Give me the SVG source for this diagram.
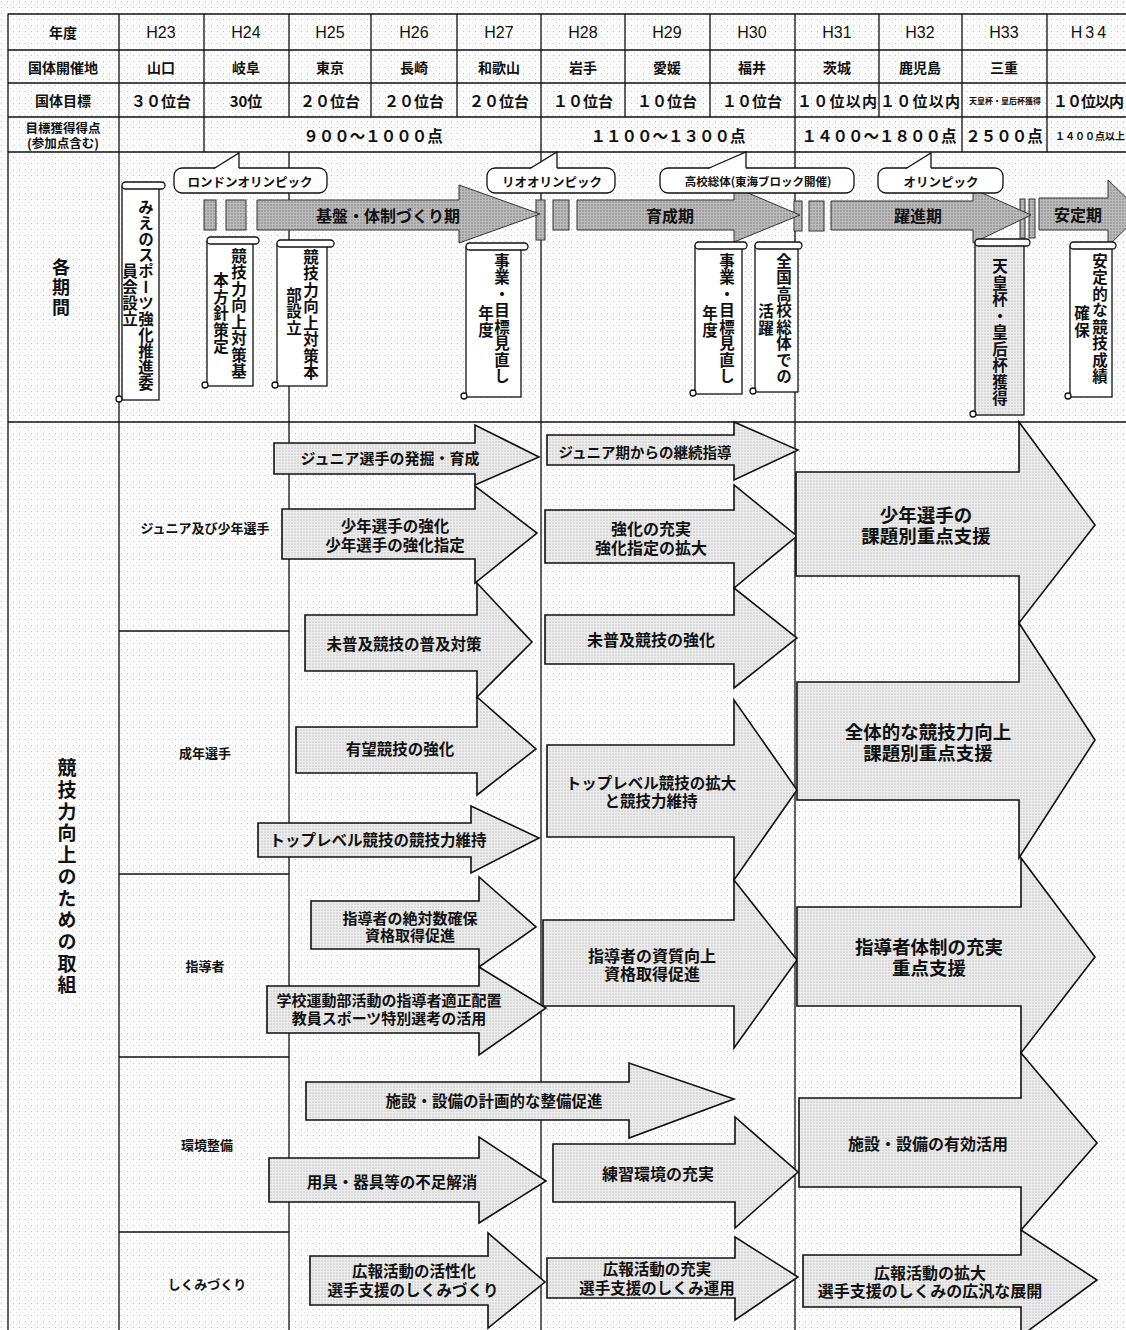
<svg xmlns="http://www.w3.org/2000/svg" width="1126" height="1330" viewBox="0 0 1126 1330">
<defs>
<pattern id="bgd" width="6" height="6" patternUnits="userSpaceOnUse"><rect width="6" height="6" fill="#fdfdfd"/><circle cx="1.5" cy="1.5" r="0.55" fill="#b0b0b0"/><circle cx="4.5" cy="4.2" r="0.45" fill="#c4c4c4"/></pattern>
<pattern id="ad" width="3" height="3" patternUnits="userSpaceOnUse"><rect width="3" height="3" fill="#ececec"/><circle cx="1" cy="1" r="0.6" fill="#9a9a9a"/></pattern>
<pattern id="pd" width="3" height="3" patternUnits="userSpaceOnUse"><rect width="3" height="3" fill="#bcbcbc"/><circle cx="1" cy="1" r="0.7" fill="#707070"/></pattern>
<style>
.t{font-family:"Noto Sans CJK JP","Noto Sans",sans-serif;fill:#111;text-anchor:middle;dominant-baseline:central;font-weight:700}
.l{font-family:"Liberation Sans",Arial,sans-serif;fill:#111;text-anchor:middle;dominant-baseline:central}
.v{writing-mode:vertical-rl;font-family:"Noto Sans CJK JP",sans-serif;fill:#111;text-anchor:middle;font-weight:700}
.ln{stroke:#111;stroke-width:1.3;fill:none}
.arr{fill:url(#ad);stroke:#111;stroke-width:1.6;stroke-linejoin:miter}
.parr{fill:url(#pd);stroke:#333;stroke-width:1}
.sc{fill:#fff;stroke:#111;stroke-width:1.3}
.co{fill:#fff;stroke:#111;stroke-width:1.3}
</style>
</defs>
<rect width="1126" height="1330" fill="url(#bgd)"/>

<g id="grid">
<path class="ln" d="M8,14H1126 M8,50H1126 M8,83H1126 M8,117H1126 M8,152H1126 M8,422H1126"/>
<path class="ln" d="M8,14V1330 M119,14V1330 M204,14V152 M289,14V117 M371,14V117 M457,14V117 M541,14V1330 M625,14V117 M710,14V117 M795,14V1330 M879,14V117 M962,14V152 M1047,14V152 M289,152V1330"/>
<path class="ln" d="M119,631H289 M119,874H289 M119,1057H289 M119,1232H289"/>
</g>

<g id="table-text">
<text class="t" x="63" y="32" font-size="14">年度</text>
<text class="t" x="63" y="67" font-size="14">国体開催地</text>
<text class="t" x="63" y="100" font-size="14">国体目標</text>
<text class="t" font-size="12.5"><tspan x="63" y="127">目標獲得得点</tspan><tspan x="63" y="142">(参加点含む)</tspan></text>
<g class="l" font-size="16">
<text x="161" y="32">H23</text><text x="246" y="32">H24</text><text x="330" y="32">H25</text><text x="414" y="32">H26</text><text x="499" y="32">H27</text><text x="583" y="32">H28</text><text x="667" y="32">H29</text><text x="752" y="32">H30</text><text x="837" y="32">H31</text><text x="920" y="32">H32</text><text x="1004" y="32">H33</text><text x="1090" y="32" letter-spacing="3">H34</text>
</g>
<g font-size="14">
<text class="t" x="161" y="67">山口</text><text class="t" x="246" y="67">岐阜</text><text class="t" x="330" y="67">東京</text><text class="t" x="414" y="67">長崎</text><text class="t" x="499" y="67">和歌山</text><text class="t" x="583" y="67">岩手</text><text class="t" x="667" y="67">愛媛</text><text class="t" x="752" y="67">福井</text><text class="t" x="837" y="67">茨城</text><text class="t" x="920" y="67">鹿児島</text><text class="t" x="1004" y="67">三重</text>
</g>
<g font-size="15">
<text class="t" x="161" y="100" font-weight="400">３０位台</text><text class="t" x="246" y="100" font-weight="400">30位</text><text class="t" x="330" y="100" font-weight="400">２０位台</text><text class="t" x="414" y="100" font-weight="400">２０位台</text><text class="t" x="499" y="100" font-weight="400">２０位台</text><text class="t" x="583" y="100" font-weight="400">１０位台</text><text class="t" x="667" y="100" font-weight="400">１０位台</text><text class="t" x="752" y="100" font-weight="400">１０位台</text><text class="t" x="837" y="100" font-weight="400" textLength="80">１０位以内</text><text class="t" x="920" y="100" font-weight="400" textLength="80">１０位以内</text><text class="t" x="1005" y="100" font-size="8">天皇杯・皇后杯獲得</text><text class="t" x="1053" y="100" font-weight="400" style="text-anchor:start" textLength="71">１０位以内</text>
</g>
<g font-size="15.5" font-weight="400">
<text class="t" x="373" y="135" font-weight="400">９００～１０００点</text>
<text class="t" x="668" y="135" font-weight="400">１１００～１３００点</text>
<text class="t" x="879" y="135" font-weight="400">１４００～１８００点</text>
<text class="t" x="1004" y="135" font-weight="400">２５００点</text>
<text class="t" x="1055" y="135" font-size="10" style="text-anchor:start">１４００点以上</text>
</g>
</g>

<g id="period-label"><text class="v" x="61" y="288" font-size="18" letter-spacing="2">各期間</text></g>
<g id="effort-label"><text class="v" x="67" y="878" font-size="19" letter-spacing="2.7">競技力向上のための取組</text></g>

<g id="period-bars">
<rect class="parr" x="204" y="200" width="12" height="30"/>
<rect class="parr" x="226" y="200" width="20" height="30"/>
<rect class="parr" x="536" y="200" width="9" height="40"/>
<rect class="parr" x="553" y="200" width="16" height="30"/>
<rect class="parr" x="794" y="201" width="8" height="30"/>
<rect class="parr" x="809" y="201" width="15" height="30"/>
<rect class="parr" x="1020" y="199" width="5" height="39"/>
<rect class="parr" x="1029" y="199" width="6" height="39"/>
</g>
<g id="phase-kiban"><polygon class="parr" points="257,200 459,200 459,185 540,214 459,243 459,230 257,230"/><text class="t" x="388" y="215" font-size="16" fill="#222">基盤・体制づくり期</text></g>
<g id="phase-ikusei"><polygon class="parr" points="577,200 734,200 734,187 800,215 734,242 734,230 577,230"/><text class="t" x="670" y="215" font-size="16">育成期</text></g>
<g id="phase-yakushin"><polygon class="parr" points="831,201 973,201 973,189 1031,215 973,243 973,230 831,230"/><text class="t" x="918" y="215" font-size="16">躍進期</text></g>
<g id="phase-antei"><polygon class="parr" points="1039,198 1108,198 1108,180 1142,213 1108,246 1108,230 1039,230"/><text class="t" x="1078" y="214" font-size="16">安定期</text></g>

<g id="callout-london"><rect class="co" x="174" y="168" width="153" height="25" rx="8"/><path d="M214,169 L239,153 L239,169Z" fill="#fff"/><path class="ln" d="M214,168.5 L239,153 L239,168"/><text class="t" x="250" y="181" font-size="12.5">ロンドンオリンピック</text></g>
<g id="callout-rio"><rect class="co" x="487" y="168" width="128" height="25" rx="8"/><path d="M530,169 L557,152 L557,169Z" fill="#fff"/><path class="ln" d="M530,168.5 L557,152 L557,168"/><text class="t" x="552" y="181" font-size="12.5">リオオリンピック</text></g>
<g id="callout-koko"><rect class="co" x="660" y="168" width="194" height="25" rx="8"/><path d="M708,169 L746,152 L746,169Z" fill="#fff"/><path class="ln" d="M708,168.5 L746,152 L746,168"/><text class="t" x="758" y="181" font-size="11.5">高校総体(東海ブロック開催)</text></g>
<g id="callout-olympic"><rect class="co" x="878" y="168" width="125" height="25" rx="8"/><path d="M906,169 L931,153 L931,169Z" fill="#fff"/><path class="ln" d="M906,168.5 L931,153 L931,168"/><text class="t" x="941" y="181" font-size="12.5">オリンピック</text></g>

<g id="scroll-1"><rect class="sc" x="122" y="186" width="37" height="214"/><rect class="sc" x="122" y="182" width="43" height="7" rx="3.5"/><circle class="sc" cx="119" cy="399" r="3"/><text class="v" x="146" y="295" font-size="15.5" letter-spacing="0.5">みえのスポーツ強化推進委</text><text class="v" x="130" y="295" font-size="15.5" letter-spacing="0.5">員会設立</text></g>
<g id="scroll-2"><rect class="sc" x="207" y="241" width="46" height="145"/><rect class="sc" x="207" y="237" width="52" height="7" rx="3.5"/><circle class="sc" cx="205" cy="385" r="3"/><text class="v" x="239" y="314" font-size="15.5" letter-spacing="1">競技力向上対策基</text><text class="v" x="221" y="314" font-size="15.5" letter-spacing="1">本方針策定</text></g>
<g id="scroll-3"><rect class="sc" x="277" y="244" width="50" height="142"/><rect class="sc" x="277" y="240" width="57" height="7" rx="3.5"/><circle class="sc" cx="275" cy="385" r="3"/><text class="v" x="311" y="315" font-size="15.5" letter-spacing="1">競技力向上対策本</text><text class="v" x="294" y="312" font-size="15.5" letter-spacing="1">部設立</text></g>
<g id="scroll-4"><rect class="sc" x="466" y="247" width="55" height="150"/><rect class="sc" x="466" y="243" width="62" height="7" rx="3.5"/><circle class="sc" cx="464" cy="396" r="3"/><text class="v" x="502" y="319" font-size="15.5" letter-spacing="1">事業・目標見直し</text><text class="v" x="486" y="322" font-size="15.5" letter-spacing="1">年度</text></g>
<g id="scroll-5"><rect class="sc" x="695" y="246" width="47" height="148"/><rect class="sc" x="695" y="242" width="52" height="7" rx="3.5"/><circle class="sc" cx="693" cy="393" r="3"/><text class="v" x="727" y="319" font-size="15.5" letter-spacing="1">事業・目標見直し</text><text class="v" x="710" y="322" font-size="15.5" letter-spacing="1">年度</text></g>
<g id="scroll-6"><rect class="sc" x="755" y="246" width="43" height="146"/><rect class="sc" x="755" y="242" width="47" height="7" rx="3.5"/><circle class="sc" cx="753" cy="391" r="3"/><text class="v" x="784" y="319" font-size="15.5" letter-spacing="1">全国高校総体での</text><text class="v" x="766" y="320" font-size="15.5" letter-spacing="1">活躍</text></g>
<g id="scroll-7"><rect x="975" y="243" width="49" height="172" fill="url(#ad)" stroke="#111" stroke-width="1.3"/><rect class="sc" x="975" y="239" width="55" height="7" rx="3.5"/><circle class="sc" cx="973" cy="414" r="3"/><text class="v" x="1000" y="333" font-size="15.5" letter-spacing="1">天皇杯・皇后杯獲得</text></g>
<g id="scroll-8"><rect class="sc" x="1070" y="246" width="42" height="151"/><rect class="sc" x="1070" y="242" width="46" height="7" rx="3.5"/><circle class="sc" cx="1068" cy="396" r="3"/><text class="v" x="1100" y="319" font-size="15.5" letter-spacing="1">安定的な競技成績</text><text class="v" x="1082" y="322" font-size="15.5" letter-spacing="1">確保</text></g>

<g id="category-labels">
<text class="t" x="205" y="527" font-size="13">ジュニア及び少年選手</text>
<text class="t" x="205" y="752" font-size="13">成年選手</text>
<text class="t" x="205" y="965" font-size="13">指導者</text>
<text class="t" x="207" y="1144" font-size="13">環境整備</text>
<text class="t" x="207" y="1283" font-size="13">しくみづくり</text>
</g>

<g id="arrows-phase1">
<g id="a1-1"><polygon class="arr" points="274,443 475,443 475,425 539,457 475,485 475,474 274,474"/><text class="t" x="390" y="457" font-size="15">ジュニア選手の発掘・育成</text></g>
<g id="a1-2"><polygon class="arr" points="282,509 475,509 475,486 537,533 475,583 475,559 282,559"/><text class="t" font-size="15.5"><tspan x="395" y="525">少年選手の強化</tspan><tspan x="395" y="544">少年選手の強化指定</tspan></text></g>
<g id="a1-3"><polygon class="arr" points="305,615 477,615 477,583 532,642 477,697 477,671 305,671"/><text class="t" x="404" y="643" font-size="15.5">未普及競技の普及対策</text></g>
<g id="a1-4"><polygon class="arr" points="296,727 477,727 477,697 536,749 477,795 477,773 296,773"/><text class="t" x="400" y="748" font-size="15.5">有望競技の強化</text></g>
<g id="a1-5"><polygon class="arr" points="258,823 471,823 471,806 539,838 471,873 471,857 258,857"/><text class="t" x="378" y="839" font-size="15.5">トップレベル競技の競技力維持</text></g>
<g id="a1-6"><polygon class="arr" points="311,901 479,901 479,877 536,927 479,967 479,949 311,949"/><text class="t" font-size="15"><tspan x="410" y="917">指導者の絶対数確保</tspan><tspan x="410" y="934">資格取得促進</tspan></text></g>
<g id="a1-7"><polygon class="arr" points="267,986 479,986 479,967 546,1008 479,1055 479,1033 267,1033"/><text class="t" font-size="15"><tspan x="389" y="999">学校運動部活動の指導者適正配置</tspan><tspan x="389" y="1017">教員スポーツ特別選考の活用</tspan></text></g>
<g id="a1-8"><polygon class="arr" points="306,1082 629,1082 629,1063 734,1099 629,1138 629,1120 306,1120"/><text class="t" x="494" y="1100" font-size="15.5">施設・設備の計画的な整備促進</text></g>
<g id="a1-9"><polygon class="arr" points="269,1158 479,1158 479,1137 546,1181 479,1223 479,1202 269,1202"/><text class="t" x="392" y="1181" font-size="15.5">用具・器具等の不足解消</text></g>
<g id="a1-10"><polygon class="arr" points="310,1256 488,1256 488,1233 545,1282 488,1328 488,1305 310,1305"/><text class="t" font-size="15.5"><tspan x="414" y="1270">広報活動の活性化</tspan><tspan x="413" y="1289">選手支援のしくみづくり</tspan></text></g>
</g>

<g id="arrows-phase2">
<g id="a2-1"><polygon class="arr" points="547,435 734,435 734,422 798,450 734,480 734,465 547,465"/><text class="t" x="645" y="451" font-size="14.5">ジュニア期からの継続指導</text></g>
<g id="a2-2"><polygon class="arr" points="545,510 734,510 734,485 797,536 734,588 734,563 545,563"/><text class="t" font-size="16"><tspan x="651" y="528">強化の充実</tspan><tspan x="651" y="547">強化指定の拡大</tspan></text></g>
<g id="a2-3"><polygon class="arr" points="545,615 734,615 734,588 797,638 734,688 734,664 545,664"/><text class="t" x="651" y="639" font-size="16">未普及競技の強化</text></g>
<g id="a2-4"><polygon class="arr" points="547,745 734,745 734,700 797,790 734,880 734,837 547,837"/><text class="t" font-size="15.5"><tspan x="651" y="782">トップレベル競技の拡大</tspan><tspan x="651" y="800">と競技力維持</tspan></text></g>
<g id="a2-5"><polygon class="arr" points="543,920 734,920 734,880 797,960 734,1048 734,1006 543,1006"/><text class="t" font-size="16"><tspan x="652" y="955">指導者の資質向上</tspan><tspan x="652" y="973">資格取得促進</tspan></text></g>
<g id="a2-6"><polygon class="arr" points="553,1144 735,1144 735,1117 798,1172 735,1228 735,1202 553,1202"/><text class="t" x="658" y="1173" font-size="16">練習環境の充実</text></g>
<g id="a2-7"><polygon class="arr" points="547,1258 735,1258 735,1237 798,1277 735,1320 735,1298 547,1298"/><text class="t" font-size="15.5"><tspan x="657" y="1268">広報活動の充実</tspan><tspan x="657" y="1287">選手支援のしくみ運用</tspan></text></g>
</g>

<g id="arrows-phase3">
<g id="a3-1"><polygon class="arr" points="796,472 1019,472 1019,422 1095,525 1019,623 1019,576 796,576"/><text class="t" font-size="18.5"><tspan x="926" y="514">少年選手の</tspan><tspan x="926" y="535">課題別重点支援</tspan></text></g>
<g id="a3-2"><polygon class="arr" points="797,682 1019,682 1019,623 1095,740 1019,858 1019,800 797,800"/><text class="t" font-size="18.5"><tspan x="928" y="731">全体的な競技力向上</tspan><tspan x="928" y="752">課題別重点支援</tspan></text></g>
<g id="a3-3"><polygon class="arr" points="797,907 1021,907 1021,858 1095,957 1021,1053 1021,1006 797,1006"/><text class="t" font-size="18.5"><tspan x="929" y="946">指導者体制の充実</tspan><tspan x="929" y="967">重点支援</tspan></text></g>
<g id="a3-4"><polygon class="arr" points="799,1098 1021,1098 1021,1053 1097,1143 1021,1230 1021,1187 799,1187"/><text class="t" x="928" y="1143" font-size="16">施設・設備の有効活用</text></g>
<g id="a3-5"><polygon class="arr" points="803,1255 1021,1255 1021,1230 1097,1280 1021,1336 1021,1307 803,1307"/><text class="t" font-size="16"><tspan x="930" y="1272">広報活動の拡大</tspan><tspan x="930" y="1290">選手支援のしくみの広汎な展開</tspan></text></g>
</g>
</svg>
